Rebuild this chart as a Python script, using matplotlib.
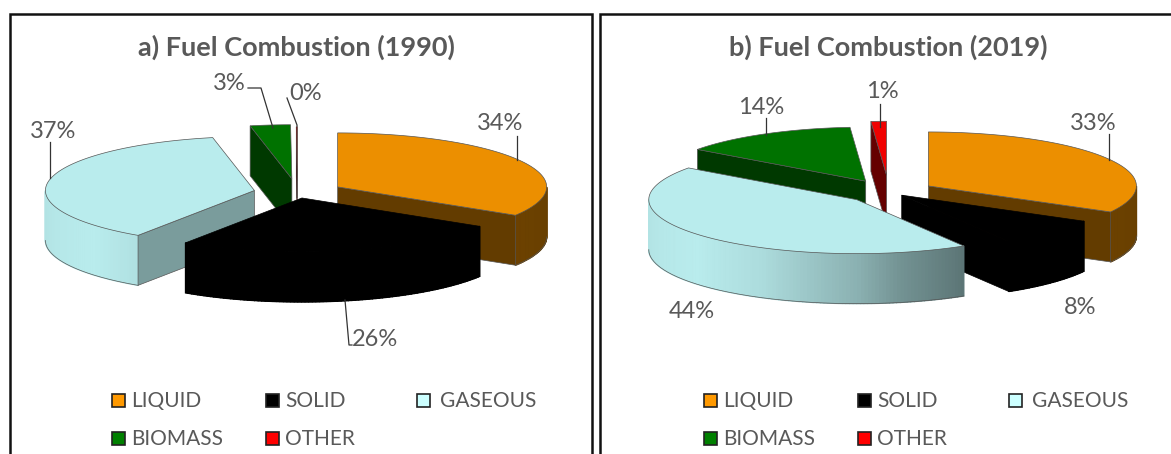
import numpy as np
import matplotlib
matplotlib.use("Agg")
import matplotlib.pyplot as plt
from matplotlib.patches import Polygon, Rectangle

plt.rcParams['font.family'] = ['Lato', 'DejaVu Sans']

categories = ["LIQUID", "SOLID", "GASEOUS", "BIOMASS", "OTHER"]
values_1990 = [33.8, 25.6, 37.4, 3.1, 0.1]
values_2019 = [33, 8.4, 43.6, 13.8, 1.2]
titles = ["a) Fuel Combustion (1990)", "b) Fuel Combustion (2019)"]

colors = ["#ec8f00", "#000000", "#b9eced", "#007200", "#f00000"]
legend_colors = ["#ff9900", "#000000", "#ccffff", "#008000", "#ff0000"]
cut_shade = [0.42, 1, 0.66, 0.5, 0.42]
TXT = "#595959"


def rim_shade(t):
    return np.interp(t, [90, 125, 147, 168, 180, 207, 230, 270],
                     [.44, .46, .48, .62, .75, .93, 1, .96])


def scaled(c, f):
    return np.array(matplotlib.colors.to_rgb(c)) * f


def draw_slice(ax, c, rx, ry, depth, t1, t2, explode, i):
    mid = np.radians((t1 + t2) / 2)
    ax_x = c[0] + explode * rx * np.sin(mid)
    ax_y = c[1] - explode * ry * np.cos(mid)
    col = colors[i]
    ec = "#555555" if i != 1 else "#000000"
    # very thin slices should not turn into a heavy dark line
    lw = min(0.5, (t2 - t1) * 0.4)

    def pt(t):
        a = np.radians(t)
        return ax_x + rx * np.sin(a), ax_y - ry * np.cos(a)

    # rim, only the part that faces the viewer
    a1, a2 = max(t1, 90), min(t2, 270)
    if a2 > a1:
        ts = np.linspace(a1, a2, 200)
        xs, ys = map(np.array, zip(*[pt(t) for t in ts]))
        base = list(zip(xs, ys)) + list(zip(xs[::-1], ys[::-1] + depth))
        ax.add_patch(Polygon(base, fc=scaled(col, rim_shade((a1 + a2) / 2)), ec="none"))
        steps = np.linspace(a1, a2, int(a2 - a1) + 2)
        for u, v in zip(steps[:-1], steps[1:]):
            (x1, y1), (x2, y2) = pt(u), pt(v)
            f = scaled(col, rim_shade((u + v) / 2))
            ax.add_patch(Polygon([(x1, y1), (x2, y2), (x2, y2 + depth), (x1, y1 + depth)],
                                 fc=f, ec=f, lw=1.0))
        ax.plot(xs, ys + depth, color=ec, lw=lw)

    # cut faces
    for t, visible in ((t1, np.sin(np.radians(t1)) < 0), (t2, np.sin(np.radians(t2)) > 0)):
        if visible:
            x, y = pt(t)
            ax.add_patch(Polygon([(ax_x, ax_y), (x, y), (x, y + depth), (ax_x, ax_y + depth)],
                                 fc=scaled(col, cut_shade[i]), ec=ec, lw=lw))

    # top
    ts = np.linspace(t1, t2, max(int(t2 - t1) * 2, 2))
    top = [(ax_x, ax_y)] + [pt(t) for t in ts]
    ax.add_patch(Polygon(top, fc=col, ec=ec, lw=lw))


def draw_pie(ax, values, c, rx, ry, depth, explode, order):
    edges = np.concatenate([[0], np.cumsum(values)]) * 3.6
    for i in order:
        draw_slice(ax, c, rx, ry, depth, edges[i], edges[i + 1], explode[i], i)


def draw_legend(ax, x0):
    cols = [x0, x0 + 154, x0 + 305]
    spots = [(cols[0], 400), (cols[1], 400), (cols[2], 400), (cols[0], 438), (cols[1], 438)]
    for (x, y), name, col in zip(spots, categories, legend_colors):
        tx = x + 23 if name == "GASEOUS" else x + 19
        ax.add_patch(Rectangle((x, y - 6), 13, 13, fc=col, ec="#222222", lw=1.2))
        ax.text(tx, y + 1, name, color=TXT, fontsize=15, va="center", ha="left")


def pct(v):
    return "{:.0f}%".format(v)


fig = plt.figure(figsize=(11.71, 4.54), dpi=100)
ax = fig.add_axes([0, 0, 1, 1])
ax.set_xlim(0, 1171)
ax.set_ylim(454, 0)
ax.axis("off")

# panel boxes, the second one runs off the right edge
ax.plot([10, 10, 592, 592], [454, 14, 14, 454], color="#111111", lw=1.8, solid_joinstyle="miter")
ax.plot([600, 600, 1175], [454, 14, 14], color="#111111", lw=1.8, solid_joinstyle="miter")

ax.text(296, 47, titles[0], color=TXT, fontsize=19.5, fontweight="bold", ha="center", va="center")
ax.text(888, 47, titles[1], color=TXT, fontsize=19.5, fontweight="bold", ha="center", va="center")

draw_pie(ax, values_1990, (297.5, 192.7), 209, 54, 50, [.22, .10, .21, .26, .22], [0, 3, 4, 2, 1])
draw_pie(ax, values_2019, (889, 192), 208, 54, 50, [.22, .085, .21, .23, .31], [0, 1, 3, 4, 2])

# data labels and their leader lines
spots_a = [(500, 123), (375, 340), (53, 132), (229, 84), (306, 93)]
spots_b = [(1093, 123), (1080, 308), (692, 312), (761, 107), (882, 91)]
for vals, spots in ((values_1990, spots_a), (values_2019, spots_b)):
    for v, (x, y) in zip(vals, spots):
        ax.text(x, y, pct(v), color=TXT, fontsize=17, ha="center", va="center")

leaders = [
    [(517, 136), (517, 160)],
    [(50, 142), (50, 178)],
    [(248, 88), (261, 88), (273, 128)],
    [(287, 98), (297, 125), (297, 198)],
    [(345, 300), (349, 345), (352, 345)],
    [(1109, 134), (1109, 160)],
    [(766, 118), (766, 135)],
    [(880, 104), (880, 127)],
]
for ln in leaders:
    xs, ys = zip(*ln)
    ax.plot(xs, ys, color="#333333", lw=0.9)

draw_legend(ax, 112)
draw_legend(ax, 704)

fig.savefig("out.png", dpi=100)
